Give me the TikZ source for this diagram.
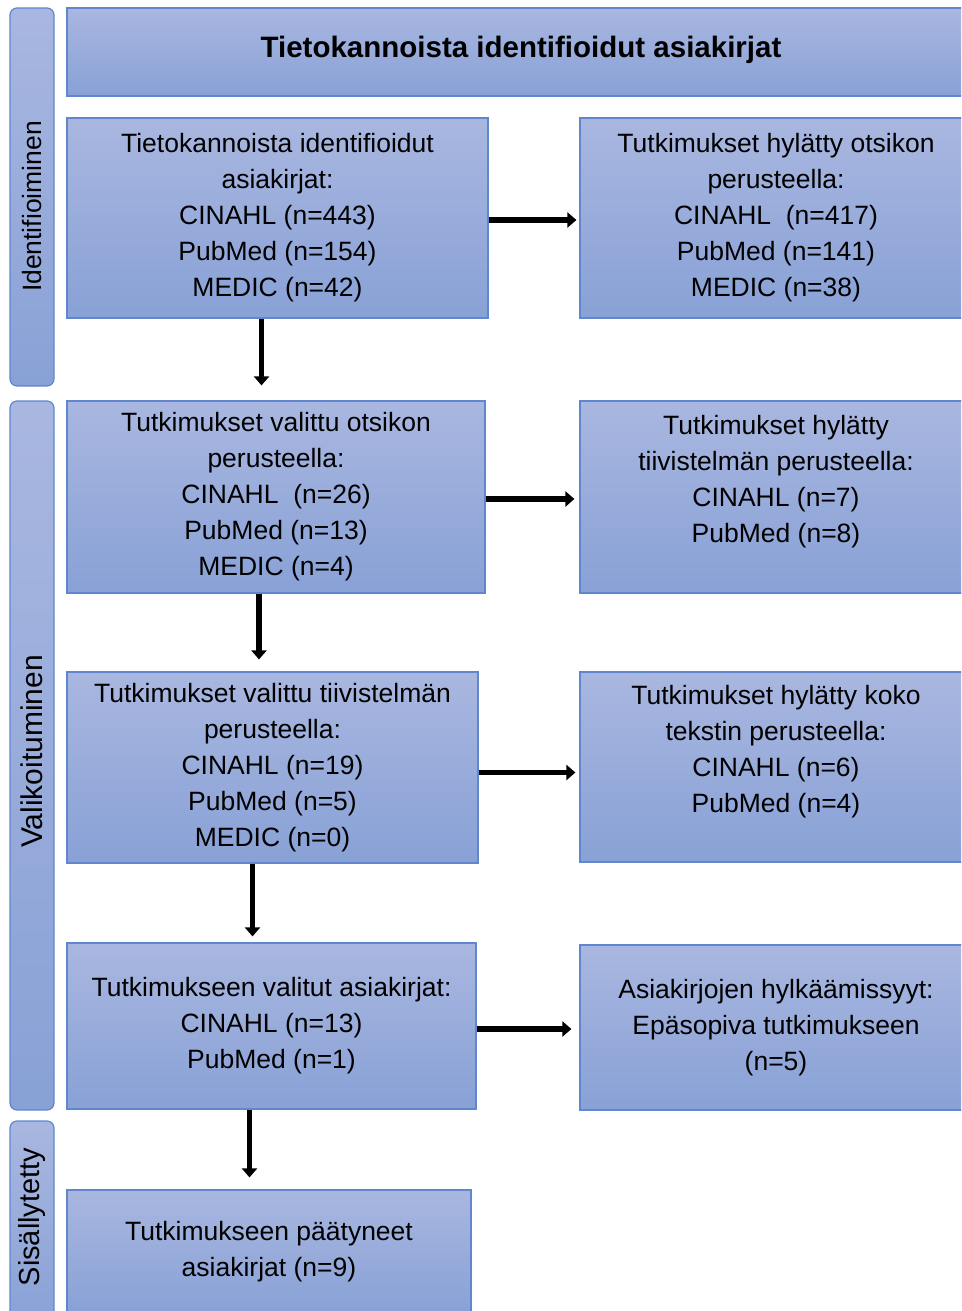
\documentclass[tikz,border=0pt]{standalone}
\usepackage{fontspec}
\setmainfont{Liberation Sans}
\usepackage{tikz}
\usetikzlibrary{arrows.meta}

\definecolor{boxtop}{RGB}{169,183,224}
\definecolor{boxbot}{RGB}{136,161,214}
\definecolor{boxline}{RGB}{96,134,206}

\newcommand{\boxfont}{\fontsize{26.5}{36}\selectfont}

\tikzset{
  box/.style={draw=boxline, line width=1.2pt, top color=boxtop, bottom color=boxbot,
              align=center, inner sep=0pt, font=\boxfont},
  sidebox/.style={box, rounded corners=7pt, minimum width=44pt},
  flow/.style={-{Triangle[length=9pt,width=15pt]}, line width=5.5pt}
}

\begin{document}
\begin{tikzpicture}[x=1pt,y=-1pt]
    \useasboundingbox (0,0) rectangle (961,1311);
    \clip (0,0) rectangle (961,1311);
     % vaiheet
     \node[sidebox, minimum height=378pt] (s1) at (32, 197)
        {\rotatebox{90}{Identifioiminen\hspace*{19pt}}};
     \node[sidebox, minimum height=709pt, font=\fontsize{30}{36}\selectfont] (s2) at (32, 755.5)
        {\rotatebox{90}{\hspace*{8pt}Valikoituminen}};
     \node[sidebox, minimum height=204pt, font=\fontsize{29}{36}\selectfont] (s3) at (32, 1223)
        {\rotatebox{90}{\hspace*{12pt}Sisällytetty}};
     % otsikko
     \node[box, minimum width=908pt, minimum height=88pt, font=\fontsize{29.5}{36}\selectfont\bfseries]
        (otsikko) at (521, 52) {\raisebox{11pt}{Tietokannoista identifioidut asiakirjat}};
     % vasen sarake
     \node[box, minimum width=421pt, minimum height=200pt] (a1) at (277.5, 218)
        {Tietokannoista identifioidut\\ asiakirjat:\\ CINAHL (n=443)\\ PubMed (n=154)\\ MEDIC (n=42)};
     \node[box, minimum width=418pt, minimum height=192pt] (a2) at (276, 497)
        {Tutkimukset valittu otsikon\\ perusteella:\\ CINAHL~ (n=26)\\ PubMed (n=13)\\ MEDIC (n=4)};
     \node[box, minimum width=411pt, minimum height=191pt] (a3) at (272.5, 767.5)
        {Tutkimukset valittu tiivistelmän\\ perusteella:\\ CINAHL (n=19)\\ PubMed (n=5)\\ MEDIC (n=0)};
     \node[box, minimum width=409pt, minimum height=166pt] (a4) at (271.5, 1026)
        {Tutkimukseen valitut asiakirjat:\\ CINAHL (n=13)\\ PubMed (n=1)};
     \node[box, minimum width=404pt, minimum height=124pt] (a5) at (269, 1252)
        {Tutkimukseen päätyneet\\ asiakirjat (n=9)};
     % oikea sarake
     \node[box, minimum width=392pt, minimum height=200pt] (b1) at (776, 218)
        {Tutkimukset hylätty otsikon\\ perusteella:\\ CINAHL~ (n=417)\\ PubMed (n=141)\\ MEDIC (n=38)};
     \node[box, minimum width=392pt, minimum height=192pt] (b2) at (776, 497)
        {Tutkimukset hylätty\\ tiivistelmän perusteella:\\ CINAHL (n=7)\\ PubMed (n=8)\\ ~};
     \node[box, minimum width=392pt, minimum height=190pt] (b3) at (776, 767)
        {Tutkimukset hylätty koko\\ tekstin perusteella:\\ CINAHL (n=6)\\ PubMed (n=4)\\ ~};
     \node[box, minimum width=392pt, minimum height=165pt] (b4) at (776, 1027.5)
        {Asiakirjojen hylkäämissyyt:\\ Epäsopiva tutkimukseen\\ (n=5)};
     % nuolet
     \draw[flow, shorten >=3pt] ([yshift=-2pt]a1.east) -- ([yshift=-2pt]a1.east -| b1.west);
     \draw[flow, shorten >=5pt] ([yshift=-2pt]a2.east) -- ([yshift=-2pt]a2.east -| b2.west);
     \draw[flow, shorten >=4pt] ([yshift=-5pt]a3.east) -- ([yshift=-5pt]a3.east -| b3.west);
     \draw[flow, shorten >=8pt] ([yshift=-3pt]a4.east) -- ([yshift=-3pt]a4.east -| b4.west);
     \draw[flow, shorten >=15pt] ([xshift=-16pt]a1.south) -- ([xshift=-16pt]a1.south |- a2.north);
     \draw[flow, shorten >=12pt] ([xshift=-17pt]a2.south) -- ([xshift=-17pt]a2.south |- a3.north);
     \draw[flow, shorten >=6pt]  ([xshift=-20pt]a3.south) -- ([xshift=-20pt]a3.south |- a4.north);
     \draw[flow, shorten >=12pt] ([xshift=-22pt]a4.south) -- ([xshift=-22pt]a4.south |- a5.north);
\end{tikzpicture}
\end{document}
